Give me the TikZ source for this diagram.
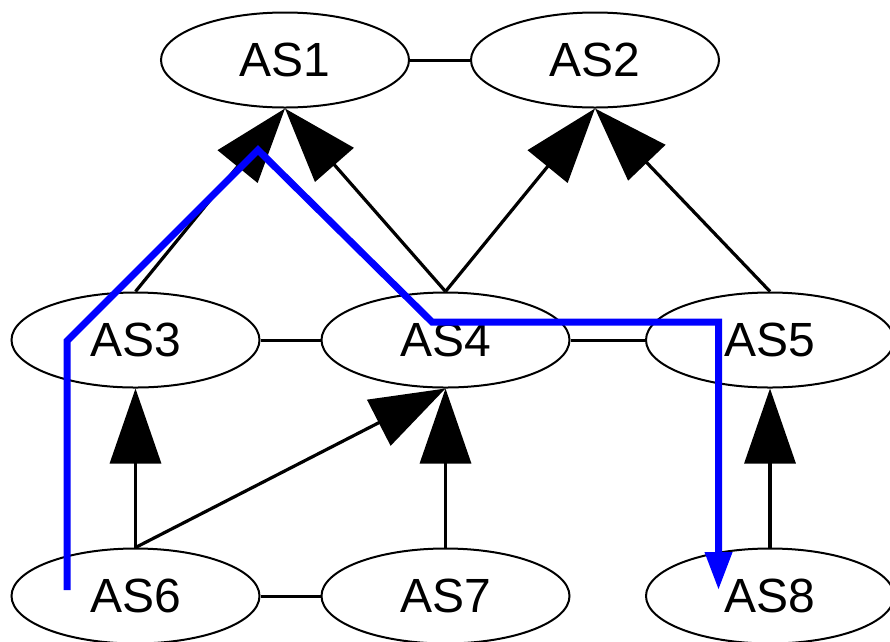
\documentclass[tikz,border=0pt]{standalone}
\usepackage{fontspec}
\setmainfont{Liberation Sans}
\usetikzlibrary{shapes.geometric,arrows.meta}
\begin{document}
\begin{tikzpicture}[x=1pt,y=-1pt,
  asnode/.style={ellipse,draw,line width=2pt,minimum width=248pt,minimum height=95pt,inner sep=0pt,
    font=\fontsize{48}{52}\selectfont},
  edgearrow/.style={line width=3.2pt,-{Triangle[length=75pt,width=51pt]}},
  edgeplain/.style={line width=3pt},
  bluepath/.style={draw=blue,line width=7pt,-{Triangle[length=38pt,width=26pt]}}]
\useasboundingbox (0,0) rectangle (890,641);
\node[asnode] (AS1) at (285,60) {AS1};
\node[asnode] (AS2) at (595,60) {AS2};
\node[asnode] (AS3) at (135.5,340) {AS3};
\node[asnode] (AS4) at (445.5,340) {AS4};
\node[asnode] (AS5) at (770,340) {AS5};
\node[asnode] (AS6) at (135.5,596) {AS6};
\node[asnode] (AS7) at (445.5,596) {AS7};
\node[asnode] (AS8) at (770,596) {AS8};
\draw[edgeplain] (AS1.east) -- (AS2.west);
\draw[edgeplain] (AS3.east) -- (AS4.west);
\draw[edgeplain] (AS4.east) -- (AS5.west);
\draw[edgeplain] (AS6.east) -- (AS7.west);
\draw[edgearrow] (AS3.north) -- (AS1.south);
\draw[edgearrow] (AS4.north) -- (AS1.south);
\draw[edgearrow] (AS4.north) -- (AS2.south);
\draw[edgearrow] (AS5.north) -- (AS2.south);
\draw[edgearrow] (AS6.north) -- (AS3.south);
\draw[edgearrow] (AS6.north) -- (AS4.south);
\draw[edgearrow] (AS7.north) -- (AS4.south);
\draw[edgearrow] (AS8.north) -- (AS5.south);
\coordinate (b0) at (67,590);
\coordinate (b1) at (67,341);
\coordinate (b2) at (258,150);
\coordinate (b3) at (432,322);
\coordinate (b4) at (718.5,322);
\coordinate (b5) at (718.5,590);
\draw[bluepath] (b0) -- (b1) -- (b2) -- (b3) -- (b4) -- (b5);
\end{tikzpicture}
\end{document}
